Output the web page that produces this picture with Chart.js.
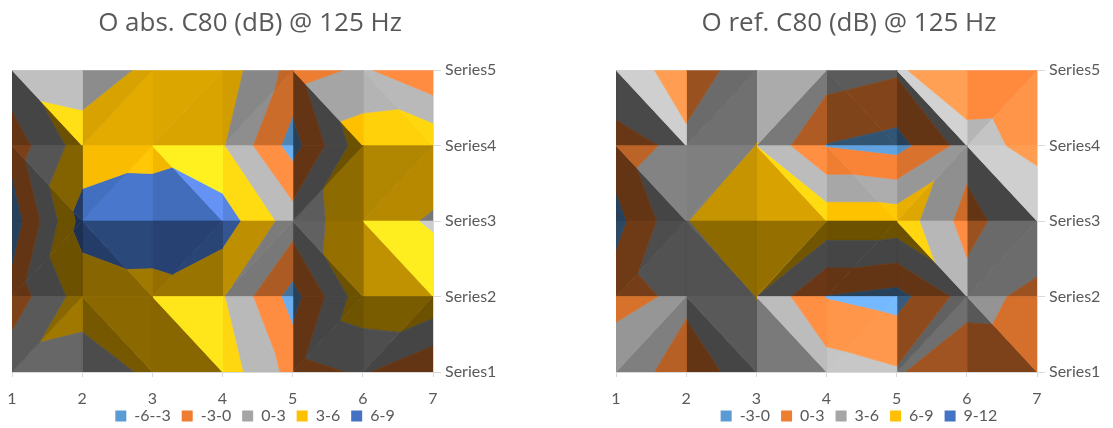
<!DOCTYPE html>
<html><head><meta charset="utf-8">
<script src="https://cdn.jsdelivr.net/npm/chart.js@4"></script>
<style>
html,body{margin:0;padding:0;background:#fff;width:1113px;height:428px;overflow:hidden}
canvas{position:absolute;top:0}
</style></head><body>
<canvas id="c1" width="500" height="443" style="left:0"></canvas>
<canvas id="c2" width="500" height="443" style="left:604px"></canvas>
<script>
const columns = [1, 2, 3, 4, 5, 6, 7];
const seriesNames = ['Series1', 'Series2', 'Series3', 'Series4', 'Series5'];

const absTitle = 'O abs. C80 (dB) @ 125 Hz';
const absS1 = [2.1, 1.41, 3.56, 4.75, -1.05, 0.35, -2.85];
const absS2 = [-1.7, 4.41, 5.36, 3.26, -4.1, 4.94, 5.4];
const absS3 = [-4.7, 7.15, 7.09, 7.6, 1.53, 4.7, 2.6];
const absS4 = [-1.65, 4.47, 5.36, 3.26, -4.13, 4.94, 5.43];
const absS5 = [2.0, 1.34, 3.68, 4.75, -1.08, 0.44, -2.67];
const absBandEdges = [-6, -3, 0, 3, 6, 9];
const absBandNames = ['-6--3', '-3-0', '0-3', '3-6', '6-9'];

const refTitle = 'O ref. C80 (dB) @ 125 Hz';
const refS1 = [5.5, 0.97, 5.1, 4.55, 3.35, 0.6, 0.8];
const refS2 = [1.7, 3.87, 6.05, -0.1, -1.1, 4.28, 2.05];
const refS3 = [-1.0, 5.95, 7.3, 8.1, 8.1, 1.82, 5.75];
const refS4 = [1.78, 3.81, 6.05, -0.1, -1.1, 4.28, 2.0];
const refS5 = [5.37, 1.06, 5.1, 4.52, 3.45, 0.58, 0.8];
const refBandEdges = [-3, 0, 3, 6, 9, 12];
const refBandNames = ['-3-0', '0-3', '3-6', '6-9', '9-12'];

const bandColors = [[91,155,213],[237,125,49],[165,165,165],[255,192,0],[68,114,196]];
const legendSwatches = ['#5B9BD5', '#ED7D31', '#A5A5A5', '#FFC000', '#4472C4'];
const textColor = '#595959';
const lineColor = '#D9D9D9';
const titleFont = '"Open Sans", sans-serif';
const tickFont = 'Lato, sans-serif';

// light from the upper right: brightness of a flat facet from its slopes
function brightness(dx,dy){
  const q=dy-dx, g=Math.hypot(dx,dy);
  const x=q/Math.sqrt(1+0.25*g*g);
  let f=0.78+(x>0?0.19:0.12)*x;
  f=Math.min(f,1.28);
  if(f>1&&g>5)f-=Math.min(0.14,0.1*(g-5));
  if(dy<0&&q>0&&g>5)f-=0.12;
  if(x<0&&g>3)f-=0.04*(g-3);
  return Math.max(0.42,f);
}
function shade(rgb,f){
  const c=rgb.map(v=>{
    let o=v*f;
    if(f>1)o+=(f-1)*Math.max(0,130-v);
    return Math.round(Math.min(255,o));
  });
  return `rgb(${c[0]},${c[1]},${c[2]})`;
}
function clip(poly,level,keepAbove){
  const out=[];
  for(let i=0;i<poly.length;i++){
    const a=poly[i],b=poly[(i+1)%poly.length];
    const ia=keepAbove?a.z>=level:a.z<=level, ib=keepAbove?b.z>=level:b.z<=level;
    if(ia)out.push(a);
    if(ia!==ib){
      const t=(level-a.z)/(b.z-a.z);
      out.push({x:a.x+(b.x-a.x)*t,y:a.y+(b.y-a.y)*t,z:level});
    }
  }
  return out;
}
function buildDatasets(rows,edges){
  const sets=[];
  function facet(p,dx,dy){
    const f=brightness(dx,dy);
    for(let k=0;k<edges.length-1;k++){
      let poly=clip(p,edges[k],true);
      if(poly.length)poly=clip(poly,edges[k+1],false);
      if(poly.length<3)continue;
      const col=shade(bandColors[k],f);
      const pts=poly.map(v=>({x:v.x,y:v.y}));
      pts.push(pts[0]);
      sets.push({data:pts,backgroundColor:col,borderColor:col,borderWidth:0.7,fill:'shape',pointRadius:0,tension:0,spanGaps:true});
    }
  }
  for(let r=0;r<rows.length-1;r++){
    for(let c=0;c<columns.length-1;c++){
      const P=(i,j)=>({x:columns[j],y:i+1,z:rows[i][j]});
      const bl=P(r,c),br=P(r,c+1),tl=P(r+1,c),tr=P(r+1,c+1);
      if(tl.z+br.z>=tr.z+bl.z){ // diagonal tl-br
        facet([tl,tr,br],tr.z-tl.z,br.z-tr.z);
        facet([tl,bl,br],br.z-bl.z,bl.z-tl.z);
      }else{ // diagonal bl-tr
        facet([tl,tr,bl],tr.z-tl.z,bl.z-tl.z);
        facet([tr,br,bl],br.z-bl.z,br.z-tr.z);
      }
    }
  }
  return sets;
}
function draw(id,title,rows,edges,names,leftPad,axisWidth,titleShift,legendShift){
  const shift={id:'boxShift',afterLayout(ch){
    ch.legend.left+=legendShift;ch.legend.right+=legendShift;
    ch.legend.top-=9;ch.legend.bottom-=9;
    ch.titleBlock.left+=titleShift;ch.titleBlock.right+=titleShift;
  }};
  new Chart(document.getElementById(id),{
    type:'line',
    data:{datasets:buildDatasets(rows,edges)},
    plugins:[shift],
    options:{
      responsive:false,animation:false,events:[],
      layout:{padding:{left:leftPad,right:0,top:8,bottom:0}},
      plugins:{
        tooltip:{enabled:false},
        title:{display:true,text:title,color:textColor,font:{family:titleFont,size:26,weight:'normal'},padding:{top:0,bottom:31}},
        legend:{position:'bottom',labels:{
          color:textColor,boxWidth:11,boxHeight:11,padding:11,font:{family:tickFont,size:16},
          generateLabels:()=>names.map((t,i)=>({text:t,fillStyle:legendSwatches[i],strokeStyle:legendSwatches[i],lineWidth:0,fontColor:textColor,hidden:false,datasetIndex:0}))
        }}
      },
      scales:{
        x:{type:'linear',min:1,max:7,
          grid:{color:lineColor,tickColor:lineColor,tickLength:5},border:{color:lineColor},
          ticks:{stepSize:1,color:textColor,font:{family:tickFont,size:16},padding:12,maxRotation:0,autoSkip:false},
          afterFit(s){s.height=34;s.paddingLeft=0;s.paddingRight=0;}},
        y:{type:'linear',position:'right',min:1,max:5,
          grid:{color:lineColor,tickColor:lineColor,tickLength:8},border:{color:lineColor},
          ticks:{stepSize:1,color:textColor,font:{family:tickFont,size:16},padding:4,callback:v=>seriesNames[v-1]},
          afterFit(s){s.width=axisWidth;}}
      }
    }
  });
}
draw('c1',absTitle,[absS1,absS2,absS3,absS4,absS5],absBandEdges,absBandNames,12,67,-6,-1);
draw('c2',refTitle,[refS1,refS2,refS3,refS4,refS5],refBandEdges,refBandNames,12,67,-11,-1);
</script>
</body></html>
